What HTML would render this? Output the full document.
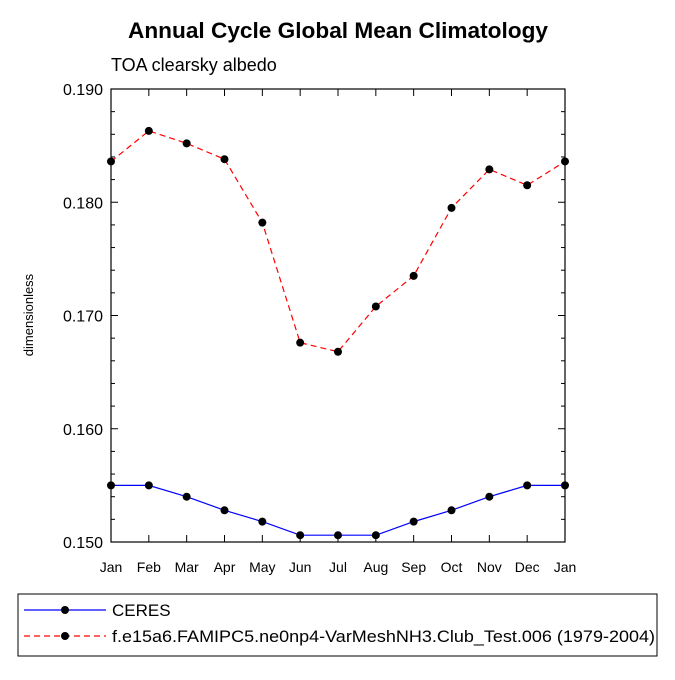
<!DOCTYPE html>
<html><head><meta charset="utf-8"><style>
body{margin:0;background:#fff;}
svg text{font-family:"Liberation Sans",sans-serif;}
</style></head><body>
<svg id="c" width="675" height="675" xmlns="http://www.w3.org/2000/svg">
<text x="338" y="38" text-anchor="middle" font-size="22" font-weight="bold" textLength="420" lengthAdjust="spacingAndGlyphs">Annual Cycle Global Mean Climatology</text>
<text x="111" y="71" font-size="18">TOA clearsky albedo</text>
<text transform="translate(33,315) rotate(-90)" text-anchor="middle" font-size="13">dimensionless</text>
<g id="ax"></g><g id="marks"></g>
<rect x="18" y="594" width="639" height="62" fill="none" stroke="#000" stroke-width="1"/>
<g>
<line x1="24" y1="610" x2="106" y2="610" stroke="#0000ff" stroke-width="1.2"/><circle cx="65" cy="610" r="4" fill="#000"/>
<text x="112" y="616" font-size="17">CERES</text></g>
<g>
<line x1="24" y1="636" x2="106" y2="636" stroke="#ff0000" stroke-width="1.2" stroke-dasharray="6,4"/><circle cx="65" cy="636" r="4" fill="#000"/>
<text x="112" y="642" font-size="17" textLength="543" lengthAdjust="spacingAndGlyphs">f.e15a6.FAMIPC5.ne0np4-VarMeshNH3.Club_Test.006 (1979-2004)</text></g>
</svg>
<script>
const months=["Jan","Feb","Mar","Apr","May","Jun","Jul","Aug","Sep","Oct","Nov","Dec","Jan"];
const ceres=[0.1550,0.1550,0.1540,0.1528,0.1518,0.1506,0.1506,0.1506,0.1518,0.1528,0.1540,0.1550,0.1550];
const model=[0.1836,0.1863,0.1852,0.1838,0.1782,0.1676,0.1668,0.1708,0.1735,0.1795,0.1829,0.1815,0.1836];
const yTicks=[0.150,0.160,0.170,0.180,0.190];
const L=111,R=565,T=89,B=542,ymin=0.150,ymax=0.190;
const xs=i=>L+(R-L)*i/(months.length-1);
const ys=v=>B-(v-ymin)/(ymax-ymin)*(B-T);
const NS="http://www.w3.org/2000/svg";
function mk(t,a,p){const e=document.createElementNS(NS,t);for(const k in a)e.setAttribute(k,a[k]);p.appendChild(e);return e;}
const ax=document.getElementById('ax'),mg=document.getElementById('marks');
const fr=mk('rect',{x:L,y:T,width:R-L,height:B-T,fill:'none',stroke:'#000','stroke-width':1.2},ax);


months.forEach((m,i)=>{const x=xs(i);
mk('line',{x1:x,y1:B,x2:x,y2:B-7,stroke:'#000'},ax);mk('line',{x1:x,y1:T,x2:x,y2:T+7,stroke:'#000'},ax);
const t=mk('text',{x:x,y:B+30,'text-anchor':'middle','font-size':14},ax);t.textContent=m;

});
for(let v=ymin;v<=ymax+1e-9;v+=0.002){const y=ys(v),major=Math.abs(Math.round(v*100)-v*100)<1e-6,l=major?7:4;
mk('line',{x1:L,y1:y,x2:L+l,y2:y,stroke:'#000'},ax);mk('line',{x1:R,y1:y,x2:R-l,y2:y,stroke:'#000'},ax);}
yTicks.forEach(v=>{const t=mk('text',{x:L-8,y:ys(v)+6,'text-anchor':'end','font-size':16},ax);t.textContent=v.toFixed(3);

});
function series(d,col,dash,name){
const pl=mk('polyline',{points:d.map((v,i)=>xs(i)+','+ys(v)).join(' '),fill:'none',stroke:col,'stroke-width':1.2,'stroke-dasharray':dash},mg);


d.forEach((v,i)=>{const c=mk('circle',{cx:xs(i),cy:ys(v),r:4,fill:'#000'},mg);

});}
series(ceres,'#0000ff','none','ceres');
series(model,'#ff0000','6,4','model');
</script>
</body></html>
